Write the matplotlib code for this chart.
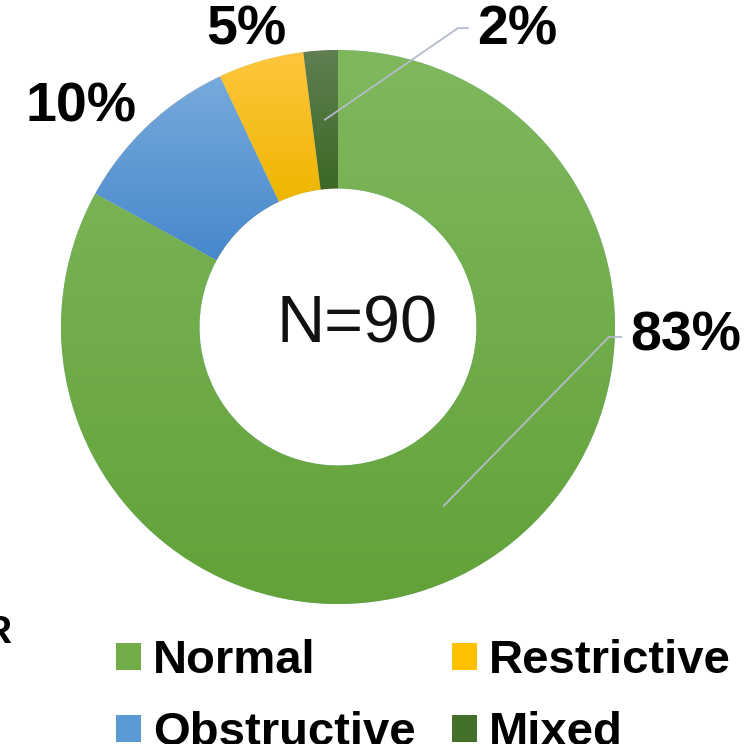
import numpy as np
import matplotlib
matplotlib.use("Agg")
import matplotlib.pyplot as plt
from matplotlib.patches import Patch

# ---------------------------------------------------------------------------
# Data
# ---------------------------------------------------------------------------
categories = ["Normal", "Obstructive", "Restrictive", "Mixed"]
shares = [83, 10, 5, 2]            # percent of N=90
pct_labels = ["83%", "10%", "5%", "2%"]
center_label = "N=90"

# gradient colours (top, bottom) per slice, Excel-like
top_colors = ["#80b85e", "#78aadd", "#ffc63e", "#607f52"]
bottom_colors = ["#62a238", "#4688cb", "#eeb600", "#3c6824"]
legend_colors = ["#70ad47", "#5b9bd5", "#ffc000", "#44702c"]

plt.rcParams["font.family"] = ["Liberation Sans", "DejaVu Sans"]

fig = plt.figure(figsize=(7.53, 7.44), dpi=100)
# axes placed so the ring sits where it does in the reference
ax = fig.add_axes([61 / 753, 140 / 744, 554 / 753, 554 / 744])

wedges, _ = ax.pie(
    shares, startangle=90, counterclock=False, radius=1.0,
    wedgeprops=dict(width=0.5, edgecolor="white", linewidth=0.4),
)

# vertical gradient fill clipped to each wedge
g = np.linspace(0, 1, 256)[:, None, None]
for w, c_top, c_bot in zip(wedges, top_colors, bottom_colors):
    top = np.array(matplotlib.colors.to_rgb(c_top))
    bot = np.array(matplotlib.colors.to_rgb(c_bot))
    arr = bot * (1 - g) + top * g
    ext = w.get_path().get_extents()
    im = ax.imshow(arr, extent=(ext.x0, ext.x1, ext.y0, ext.y1),
                   origin="lower", aspect="auto", interpolation="bilinear",
                   zorder=1)
    im.set_clip_path(w)
    w.set_zorder(0)

ax.set_xlim(-1, 1)
ax.set_ylim(-1, 1)
ax.set_aspect("equal")
ax.axis("off")

ax.text(0.069, 0.005, center_label, ha="center", va="center", fontsize=48,
        color="#111111")

# percentage labels
lab_kw = dict(fontsize=40, fontweight="bold", color="black",
              va="center", clip_on=False)


def mid_point(w, r=0.75):
    ang = np.deg2rad((w.theta1 + w.theta2) / 2)
    return r * np.cos(ang), r * np.sin(ang)


line_kw = dict(color="#b4bccb", linewidth=1.3, clip_on=False)

# Normal - with leader
sx, sy = mid_point(wedges[0])
ax.plot([sx, 0.978, 1.022], [sy, -0.036, -0.036], **line_kw)
ax.text(1.054, -0.036, pct_labels[0], ha="left", **lab_kw)

# Obstructive / Restrictive - plain
ax.text(-0.928, 0.794, pct_labels[1], ha="center", **lab_kw)
ax.text(-0.329, 1.069, pct_labels[2], ha="center", **lab_kw)

# Mixed - with leader
sx, sy = mid_point(wedges[3])
ax.plot([sx, 0.433, 0.469], [sy, 1.079, 1.079], **line_kw)
ax.text(0.502, 1.069, pct_labels[3], ha="left", **lab_kw)

# legend
handles = [Patch(facecolor=c, edgecolor="none") for c in legend_colors]
fig.legend(handles, categories, ncol=2, loc="upper left",
           bbox_to_anchor=(83 / 753, 1 - 606 / 744),
           frameon=False, prop=dict(size=34, weight="bold"),
           handlelength=0.53, handleheight=0.51, handletextpad=0.25,
           columnspacing=0.78, labelspacing=0.6, borderpad=0.2)

# cropped letter at the bottom-left edge of the original slide
fig.text(-17 / 753, 1 - 643 / 744, "R", fontsize=28, fontweight="bold",
         ha="left", va="baseline")

fig.savefig("out.png", dpi=100)
